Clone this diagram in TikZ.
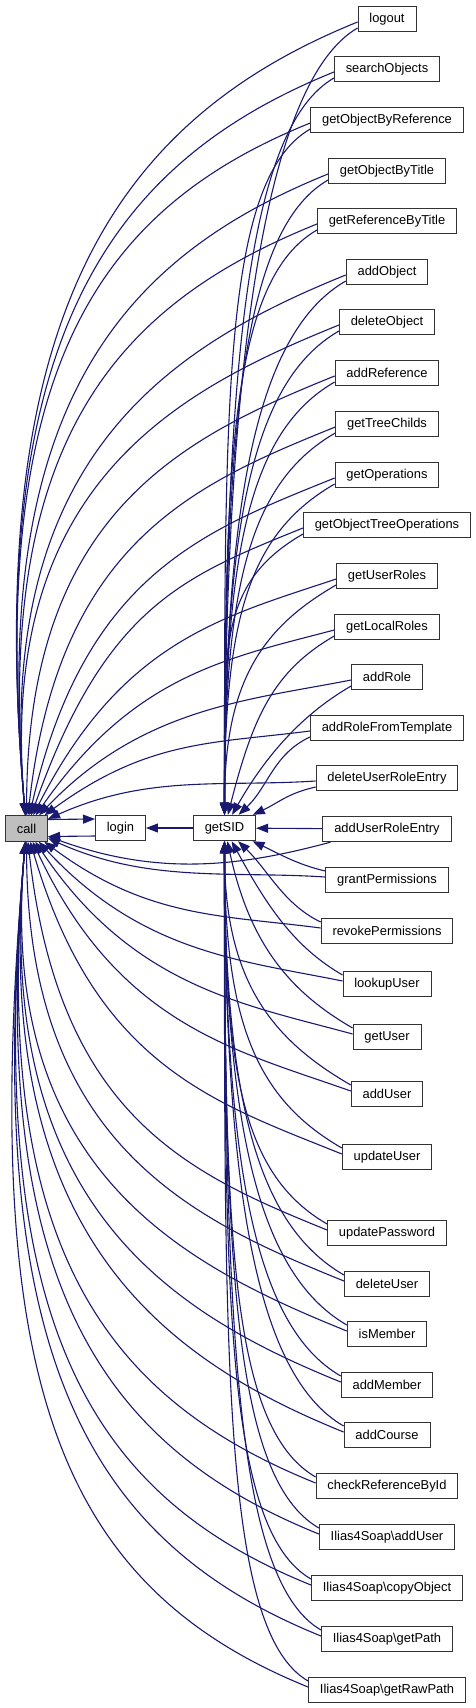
\documentclass[tikz,border=0pt]{standalone}
\usepackage{fontspec}
\setmainfont{Liberation Sans}
\usetikzlibrary{arrows.meta}

\definecolor{edgeblue}{HTML}{191970}
\definecolor{callgray}{HTML}{BFBFBF}

\tikzset{
  fn/.style={draw=black!80, line width=0.9pt, fill=white, inner xsep=11.4pt, inner ysep=0pt,
    minimum height=25.5pt, font=\fontsize{12.9}{15}\selectfont},
  calledge/.style={draw=edgeblue, line width=1.1pt, -{Triangle[length=12pt,width=9pt]}},
}

\begin{document}
\begin{tikzpicture}[x=1pt,y=1pt]
\useasboundingbox (0,0) rectangle (476,-1708);

% the function and its helpers
\node[fn,fill=callgray] (call) at (26.5,-828.5) {call};
\node[fn] (login) at (120.5,-828) {login};
\node[fn] (getSID) at (224.5,-828) {getSID};

\draw[calledge] ([yshift=9pt]call.east) -- ([yshift=9pt]login.west);
\draw[calledge] ([yshift=-8pt]login.west) -- ([yshift=-8pt]call.east);
\draw[calledge] (getSID) -- (login);

% the one caller on the same line
\node[fn] (addUserRoleEntry) at (387,-829) {addUserRoleEntry};
\draw[calledge] (addUserRoleEntry) -- (getSID);
\draw[calledge] ([xshift=8pt]addUserRoleEntry.south west) to[out=195,in=-20,out distance=90pt,in distance=120pt] (call);

% all other callers, each calling getSID and call
\foreach \nm/\lbl/\yy in {
  logout/logout/19,
  searchObjects/searchObjects/69,
  getObjectByReference/getObjectByReference/120,
  getObjectByTitle/getObjectByTitle/171,
  getReferenceByTitle/getReferenceByTitle/221,
  addObject/addObject/272,
  deleteObject/deleteObject/322,
  addReference/addReference/373,
  getTreeChilds/getTreeChilds/424,
  getOperations/getOperations/475,
  getObjectTreeOperations/getObjectTreeOperations/525,
  getUserRoles/getUserRoles/576,
  getLocalRoles/getLocalRoles/627,
  addRole/addRole/677,
  addRoleFromTemplate/addRoleFromTemplate/728,
  deleteUserRoleEntry/deleteUserRoleEntry/778,
  grantPermissions/grantPermissions/880,
  revokePermissions/revokePermissions/931,
  lookupUser/lookupUser/984,
  getUser/getUser/1037,
  addUser/addUser/1094,
  updateUser/updateUser/1157,
  updatePassword/updatePassword/1233,
  deleteUser/deleteUser/1284,
  isMember/isMember/1334,
  addMember/addMember/1385,
  addCourse/addCourse/1435,
  checkReferenceById/checkReferenceById/1486,
  soapAddUser/Ilias4Soap\textbackslash addUser/1537,
  soapCopyObject/Ilias4Soap\textbackslash copyObject/1588,
  soapGetPath/Ilias4Soap\textbackslash getPath/1639,
  soapGetRawPath/Ilias4Soap\textbackslash getRawPath/1690}{
  \node[fn] (\nm) at (387,-\yy) {\lbl};
  \pgfmathsetmacro{\dy}{828.5-\yy}
  \pgfmathsetmacro{\sg}{\dy<0 ? -1 : 1}
  \pgfmathsetmacro{\ad}{abs(\dy)}
  % edge to call
  \pgfmathsetmacro{\cout}{180+\sg*22*min(1,\ad/300)}
  \pgfmathsetmacro{\cin}{\sg*95*pow(min(1,\ad/500),0.6)}
  \pgfmathsetmacro{\clen}{100*veclen(3.1,\ad/100)}
  \pgfmathsetmacro{\cod}{0.3*\clen}
  \pgfmathsetmacro{\cid}{0.3*\clen+0.3*\ad}
  \pgfmathsetmacro{\cy}{-3*\sg}
  % edge to getSID
  \pgfmathsetmacro{\gout}{180+\sg*30*min(1,\ad/120)}
  \pgfmathsetmacro{\gin}{\sg*90*pow(min(1,\ad/250),0.8)}
  \pgfmathsetmacro{\glen}{100*veclen(0.7,\ad/100)}
  \pgfmathsetmacro{\god}{min(100,0.33*\glen)}
  \pgfmathsetmacro{\gid}{0.33*\glen+0.3*max(0,\ad-100)}
  \pgfmathsetmacro{\gy}{-9*\sg}
  \draw[calledge] ([yshift=\cy pt]\nm.west) to[out=\cout,in=\cin,out distance=\cod pt,in distance=\cid pt] (call);
  \draw[calledge] ([yshift=\gy pt]\nm.west) to[out=\gout,in=\gin,out distance=\god pt,in distance=\gid pt] (getSID);
}
\end{tikzpicture}
\end{document}
